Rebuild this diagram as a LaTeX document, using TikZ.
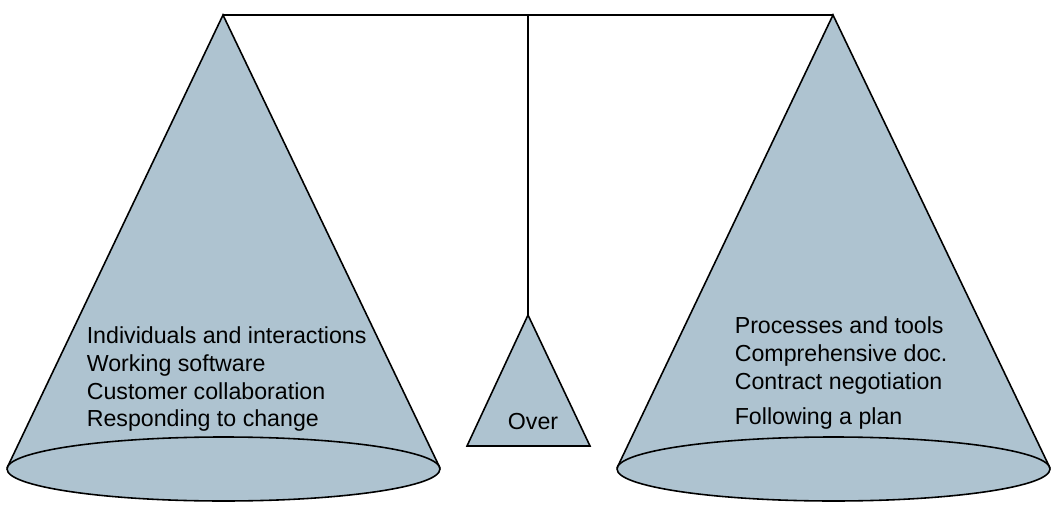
\documentclass[tikz,border=0pt]{standalone}
\usepackage{fontspec}
\setmainfont{Liberation Sans}
\usepackage{tikz}
\definecolor{cone9}{HTML}{AEC3D0}

\begin{document}
\begin{tikzpicture}[x=0.02cm,y=0.02cm,line width=0.9pt,
  every node/.style={font=\fontsize{13.2}{15}\selectfont,inner sep=0pt}]
\useasboundingbox (0,0) rectangle (1055,-510);
\coordinate (lapex) at (223,-15);
\coordinate (rapex) at (833,-15);
\coordinate (mid) at (528,-15);
\coordinate (tapex) at (528,-315);
% left cone
\fill [cone9] (lapex) -- (7,-468) -- (440,-468) -- cycle;
\draw (7,-468) -- (lapex) -- (440,-468);
\draw [fill=cone9] (223.5,-469) ellipse [x radius=216.5, y radius=32];
% right cone
\fill [cone9] (rapex) -- (617,-468) -- (1050,-468) -- cycle;
\draw (617,-468) -- (rapex) -- (1050,-468);
\draw [fill=cone9] (833.5,-469) ellipse [x radius=216.5, y radius=32];
% beam and pivot
\draw (lapex) -- (rapex);
\draw (mid) -- (tapex);
\draw [fill=cone9] (tapex) -- (467,-446) -- (590,-446) -- cycle;
\node [anchor=base] (over) at (533,-429) {Over};
% left texts
\node [anchor=base west] (ind) at (86,-343) {Individuals and interactions};
\node [anchor=base west] (work) at (86,-371) {Working software};
\node [anchor=base west] (cust) at (86,-399) {Customer collaboration};
\node [anchor=base west] (resp) at (86,-426) {Responding to change};
% right texts
\node [anchor=base west] (proc) at (734,-333) {Processes and tools};
\node [anchor=base west] (comp) at (734,-361) {Comprehensive doc.};
\node [anchor=base west] (contr) at (734,-389) {Contract negotiation};
\node [anchor=base west] (plan) at (734,-424) {Following a plan};
\end{tikzpicture}
\end{document}
